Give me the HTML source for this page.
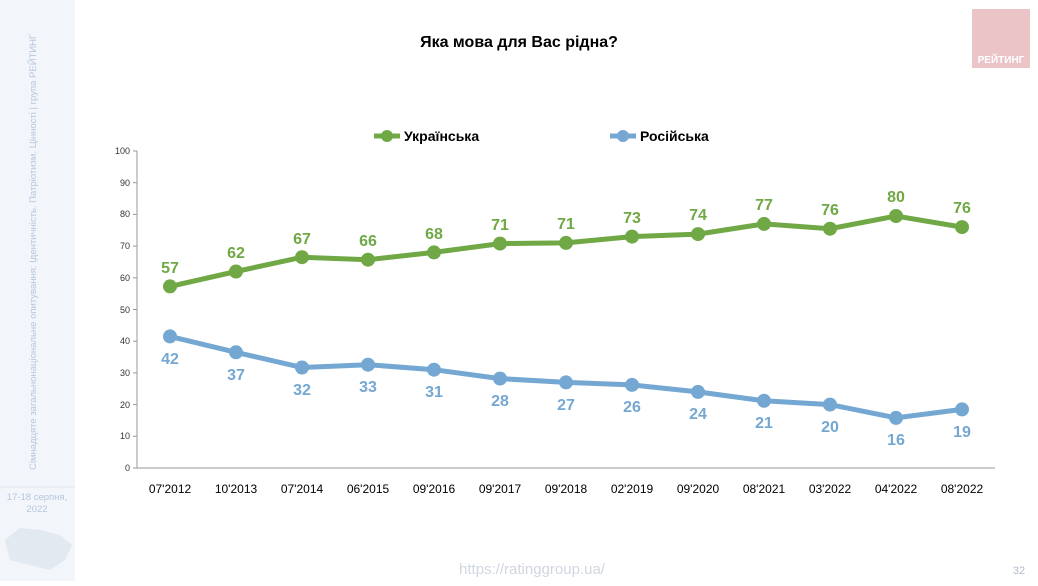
<!DOCTYPE html><html><head><meta charset="utf-8"><style>body{margin:0;background:#fff;font-family:"Liberation Sans",sans-serif}</style></head><body>
<svg width="1038" height="581" xmlns="http://www.w3.org/2000/svg" font-family="Liberation Sans, sans-serif">
<rect x="0" y="0" width="75" height="581" fill="#f2f5fa"/>
<line x1="0" y1="487" x2="75" y2="487" stroke="#e2e7ef"/>
<text transform="translate(36,470) rotate(-90)" font-size="9.5" fill="#b6c7dd">Сімнадцяте загальнонаціональне опитування: Ідентичність. Патріотизм. Цінності | група РЕЙТИНГ</text>
<text x="37" y="500" font-size="9.5" fill="#b6c7dd" text-anchor="middle">17-18 серпня,</text>
<text x="37" y="512" font-size="9.5" fill="#b6c7dd" text-anchor="middle">2022</text>
<path d="M5 540 L20 528 L40 530 L60 535 L72 545 L65 560 L50 570 L30 565 L10 560 Z" fill="#e3e9f1"/>
<rect x="972" y="9" width="58" height="59" fill="#ebc4c8"/>
<text x="1001" y="63" font-size="10" font-weight="bold" fill="#fff" text-anchor="middle">РЕЙТИНГ</text>
<text x="519" y="47" font-size="16" font-weight="bold" text-anchor="middle" fill="#000">Яка мова для Вас рідна?</text>
<line x1="374" y1="136" x2="400" y2="136" stroke="#70a845" stroke-width="5"/><circle cx="387" cy="136" r="6" fill="#70a845"/>
<text x="404" y="141" font-size="14" font-weight="bold">Українська</text>
<line x1="610" y1="136" x2="636" y2="136" stroke="#74a7d1" stroke-width="5"/><circle cx="623" cy="136" r="6" fill="#74a7d1"/>
<text x="640" y="141" font-size="14" font-weight="bold">Російська</text>
<g stroke="#999" stroke-width="1">
<line x1="137" y1="151" x2="137" y2="468"/><line x1="137" y1="468" x2="995" y2="468"/>
<line x1="133" y1="151" x2="137" y2="151"/><line x1="133" y1="182.7" x2="137" y2="182.7"/><line x1="133" y1="214.4" x2="137" y2="214.4"/><line x1="133" y1="246.1" x2="137" y2="246.1"/><line x1="133" y1="277.8" x2="137" y2="277.8"/><line x1="133" y1="309.5" x2="137" y2="309.5"/><line x1="133" y1="341.2" x2="137" y2="341.2"/><line x1="133" y1="372.9" x2="137" y2="372.9"/><line x1="133" y1="404.6" x2="137" y2="404.6"/><line x1="133" y1="436.3" x2="137" y2="436.3"/><line x1="133" y1="468" x2="137" y2="468"/>
</g>
<g font-size="9" fill="#333" text-anchor="end">
<text x="130" y="154">100</text><text x="130" y="186">90</text><text x="130" y="217">80</text><text x="130" y="249">70</text><text x="130" y="281">60</text><text x="130" y="313">50</text><text x="130" y="344">40</text><text x="130" y="376">30</text><text x="130" y="408">20</text><text x="130" y="439">10</text><text x="130" y="471">0</text>
</g>
<g font-size="12" fill="#000" text-anchor="middle">
<text x="170" y="493">07'2012</text><text x="236" y="493">10'2013</text><text x="302" y="493">07'2014</text><text x="368" y="493">06'2015</text><text x="434" y="493">09'2016</text><text x="500" y="493">09'2017</text><text x="566" y="493">09'2018</text><text x="632" y="493">02'2019</text><text x="698" y="493">09'2020</text><text x="764" y="493">08'2021</text><text x="830" y="493">03'2022</text><text x="896" y="493">04'2022</text><text x="962" y="493">08'2022</text>
</g>
<polyline fill="none" stroke="#70a845" stroke-width="5" points="170,286.4 236,271.5 302,257.2 368,259.7 434,252.4 500,243.6 566,242.9 632,236.6 698,234.1 764,223.9 830,228.7 896,216 962,227.1"/>
<g fill="#70a845"><circle cx="170" cy="286.4" r="7"/><circle cx="236" cy="271.5" r="7"/><circle cx="302" cy="257.2" r="7"/><circle cx="368" cy="259.7" r="7"/><circle cx="434" cy="252.4" r="7"/><circle cx="500" cy="243.6" r="7"/><circle cx="566" cy="242.9" r="7"/><circle cx="632" cy="236.6" r="7"/><circle cx="698" cy="234.1" r="7"/><circle cx="764" cy="223.9" r="7"/><circle cx="830" cy="228.7" r="7"/><circle cx="896" cy="216" r="7"/><circle cx="962" cy="227.1" r="7"/></g>
<g fill="#70a845" font-size="16" font-weight="bold" text-anchor="middle">
<text x="170" y="273">57</text><text x="236" y="258">62</text><text x="302" y="244">67</text><text x="368" y="246">66</text><text x="434" y="239">68</text><text x="500" y="230">71</text><text x="566" y="229">71</text><text x="632" y="223">73</text><text x="698" y="220">74</text><text x="764" y="210">77</text><text x="830" y="215">76</text><text x="896" y="202">80</text><text x="962" y="213">76</text>
</g>
<polyline fill="none" stroke="#74a7d1" stroke-width="5" points="170,336.4 236,352.3 302,367.5 368,364.7 434,369.7 500,378.6 566,382.4 632,384.9 698,391.9 764,400.8 830,404.6 896,417.9 962,409.4"/>
<g fill="#74a7d1"><circle cx="170" cy="336.4" r="7"/><circle cx="236" cy="352.3" r="7"/><circle cx="302" cy="367.5" r="7"/><circle cx="368" cy="364.7" r="7"/><circle cx="434" cy="369.7" r="7"/><circle cx="500" cy="378.6" r="7"/><circle cx="566" cy="382.4" r="7"/><circle cx="632" cy="384.9" r="7"/><circle cx="698" cy="391.9" r="7"/><circle cx="764" cy="400.8" r="7"/><circle cx="830" cy="404.6" r="7"/><circle cx="896" cy="417.9" r="7"/><circle cx="962" cy="409.4" r="7"/></g>
<g fill="#74a7d1" font-size="16" font-weight="bold" text-anchor="middle">
<text x="170" y="364">42</text><text x="236" y="380">37</text><text x="302" y="395">32</text><text x="368" y="392">33</text><text x="434" y="397">31</text><text x="500" y="406">28</text><text x="566" y="410">27</text><text x="632" y="412">26</text><text x="698" y="419">24</text><text x="764" y="428">21</text><text x="830" y="432">20</text><text x="896" y="445">16</text><text x="962" y="437">19</text>
</g>
<text x="532" y="574" font-size="15" fill="#d0d6e0" text-anchor="middle">https://ratinggroup.ua/</text>
<text x="1019" y="574" font-size="11" fill="#b0b8c8" text-anchor="middle">32</text>
</svg>
</body></html>
